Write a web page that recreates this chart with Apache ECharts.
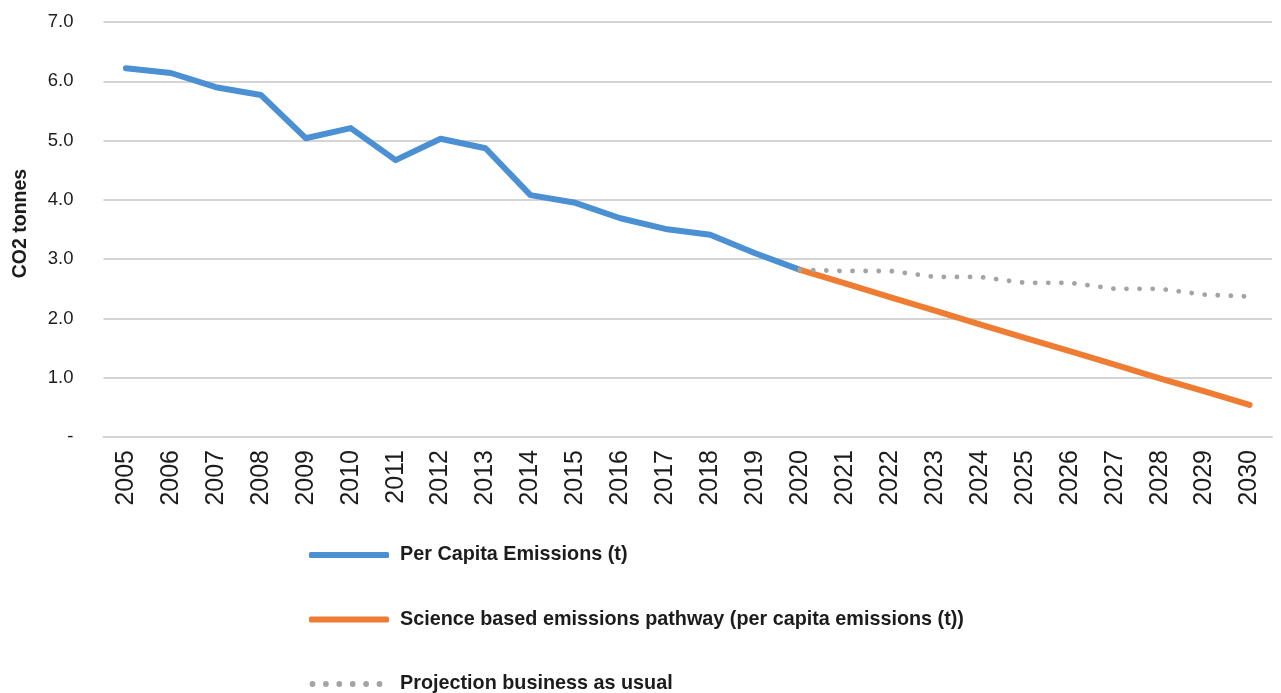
<!DOCTYPE html>
<html>
<head>
<meta charset="utf-8">
<script src="https://cdn.jsdelivr.net/npm/echarts@6/dist/echarts.min.js"></script>
<style>
  html, body { margin: 0; padding: 0; background: #ffffff; }
  #chart { width: 1281px; height: 693px; }
</style>
</head>
<body>
<div id="chart"></div>
<script>
// Years on the category axis
const years = ['2005','2006','2007','2008','2009','2010','2011','2012','2013','2014','2015','2016','2017','2018',
  '2019','2020','2021','2022','2023','2024','2025','2026','2027','2028','2029','2030'];

// Per capita emissions, tonnes CO2 (2005-2020)
const perCapita = [6.22, 6.14, 5.90, 5.77, 5.04, 5.21, 4.67, 5.03, 4.87, 4.08, 3.95, 3.69, 3.51, 3.41, 3.10, 2.82,
  null, null, null, null, null, null, null, null, null, null];

// Science based pathway (2020-2030)
const sciencePathway = [null, null, null, null, null, null, null, null, null, null, null, null, null, null, null,
  2.82, 2.59, 2.36, 2.13, 1.90, 1.67, 1.45, 1.22, 0.99, 0.77, 0.54];

// Business-as-usual projection (2020-2030)
const businessAsUsual = [null, null, null, null, null, null, null, null, null, null, null, null, null, null, null,
  2.82, 2.80, 2.80, 2.70, 2.70, 2.60, 2.60, 2.50, 2.50, 2.40, 2.37];

// Value-axis tick labels (zero is shown as a dash)
const yTickLabels = { 0: '-', 1: '1.0', 2: '2.0', 3: '3.0', 4: '4.0', 5: '5.0', 6: '6.0', 7: '7.0' };

const seriesNames = [
  'Per Capita Emissions (t)',
  'Science based emissions pathway (per capita emissions (t))',
  'Projection business as usual'
];

const FONT = '"Liberation Sans", Arial, Helvetica, sans-serif';
const BLUE = '#4a90d2';
const ORANGE = '#ee7d33';
const GREY = '#a4a4a4';

// Legend icon for the dotted series: a row of six round dots
function dottedIcon() {
  const r = 2.9, w = 80, h = 6, cy = h / 2;
  let d = 'M0,0 L0,0 M' + w + ',' + h + ' L' + w + ',' + h;
  for (let i = 0; i < 6; i++) {
    const cx = 3.5 + i * 13.4;
    d += ' M' + (cx - r) + ',' + cy +
         ' A' + r + ',' + r + ' 0 1 0 ' + (cx + r) + ',' + cy +
         ' A' + r + ',' + r + ' 0 1 0 ' + (cx - r) + ',' + cy + ' Z';
  }
  return 'path://' + d;
}

const chart = echarts.init(document.getElementById('chart'), null, { renderer: 'canvas' });

chart.setOption({
  animation: false,
  backgroundColor: '#ffffff',
  textStyle: { fontFamily: FONT },
  grid: { left: 103.5, right: 9, top: 22, bottom: 256, containLabel: false },
  legend: {
    orient: 'vertical',
    left: 309,
    top: 545,
    height: 160,
    padding: 0,
    itemWidth: 80,
    itemHeight: 6,
    itemGap: 44.5,
    symbolKeepAspect: true,
    data: [
      { name: seriesNames[0], icon: 'roundRect' },
      { name: seriesNames[1], icon: 'roundRect' },
      { name: seriesNames[2], icon: dottedIcon() }
    ],
    textStyle: { fontFamily: FONT, fontSize: 19.8, fontWeight: 'bold', color: '#1c1c1c', padding: [0, 0, 0, 6] }
  },
  xAxis: {
    type: 'category',
    data: years,
    boundaryGap: true,
    axisLine: { show: true, lineStyle: { color: '#d4d4d4', width: 2 } },
    axisTick: { show: false },
    axisLabel: { rotate: 90, margin: 13, fontSize: 25, color: '#1c1c1c', fontFamily: FONT, interval: 0 }
  },
  yAxis: {
    type: 'value',
    min: 0,
    max: 7,
    interval: 1,
    name: 'CO2 tonnes',
    nameLocation: 'middle',
    nameRotate: 90,
    nameGap: 72.5,
    nameTextStyle: { fontSize: 19.5, fontWeight: 'bold', color: '#1c1c1c', fontFamily: FONT, padding: [0, 0, 0, 12] },
    axisLine: { show: false },
    axisTick: { show: false },
    splitLine: { lineStyle: { color: '#d4d4d4', width: 2 } },
    axisLabel: {
      margin: 30,
      fontSize: 18.5,
      color: '#1c1c1c',
      fontFamily: FONT,
      formatter: v => yTickLabels[v]
    }
  },
  series: [
    {
      name: seriesNames[0],
      type: 'line',
      data: perCapita,
      symbol: 'none',
      lineStyle: { color: BLUE, width: 6, join: 'round', cap: 'round' },
      itemStyle: { color: BLUE },
      z: 3
    },
    {
      name: seriesNames[1],
      type: 'line',
      data: sciencePathway,
      symbol: 'none',
      lineStyle: { color: ORANGE, width: 6, join: 'round', cap: 'round' },
      itemStyle: { color: ORANGE },
      z: 4
    },
    {
      name: seriesNames[2],
      type: 'line',
      data: businessAsUsual,
      symbol: 'none',
      lineStyle: { color: GREY, width: 4.8, type: [0.1, 13], cap: 'round', join: 'round' },
      itemStyle: { color: GREY },
      z: 5
    }
  ]
});
</script>
</body>
</html>
